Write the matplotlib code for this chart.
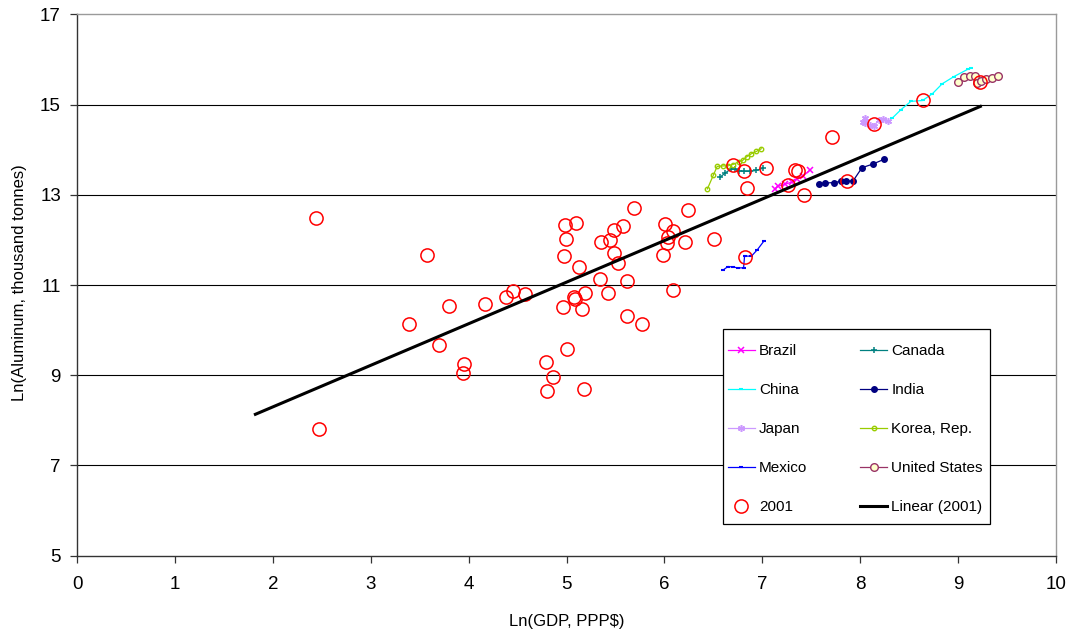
import matplotlib
matplotlib.use("Agg")
import matplotlib.pyplot as plt
from matplotlib.patches import Rectangle
import numpy as np

plt.rcParams['font.family'] = ['Liberation Sans', 'DejaVu Sans']

# --- data ---
brazil_x = [7.13, 7.16, 7.23, 7.30, 7.36, 7.42, 7.49]
brazil_y = [13.12, 13.19, 13.23, 13.28, 13.36, 13.42, 13.55]

canada_x = [6.57, 6.62, 6.68, 6.72, 6.76, 6.81, 6.88, 6.94, 7.01]
canada_y = [13.39, 13.48, 13.57, 13.58, 13.53, 13.52, 13.52, 13.54, 13.59]

china_x = [8.33, 8.42, 8.52, 8.64, 8.74, 8.84, 8.96, 9.10, 9.13]
china_y = [14.70, 14.89, 15.07, 15.09, 15.24, 15.46, 15.62, 15.78, 15.80]

india_x = [7.58, 7.64, 7.73, 7.81, 7.86, 7.93, 8.02, 8.13, 8.25]
india_y = [13.24, 13.26, 13.27, 13.30, 13.30, 13.31, 13.60, 13.68, 13.79]

japan_x = [8.03, 8.05, 8.05, 8.10, 8.14, 8.19, 8.24, 8.29]
japan_y = [14.62, 14.70, 14.58, 14.55, 14.52, 14.65, 14.67, 14.64]

korea_x = [6.44, 6.50, 6.54, 6.60, 6.65, 6.70, 6.76, 6.80, 6.84, 6.89, 6.94, 6.99]
korea_y = [13.13, 13.43, 13.63, 13.64, 13.64, 13.67, 13.73, 13.76, 13.84, 13.91, 13.96, 14.02]

mexico_x = [6.60, 6.65, 6.70, 6.75, 6.81, 6.82, 6.89, 6.95, 7.02]
mexico_y = [11.33, 11.41, 11.40, 11.38, 11.38, 11.64, 11.64, 11.78, 11.98]

us_x = [9.00, 9.06, 9.12, 9.18, 9.20, 9.24, 9.29, 9.35, 9.41]
us_y = [15.51, 15.60, 15.64, 15.64, 15.47, 15.52, 15.56, 15.58, 15.63]

y2001_x = [2.44, 2.47, 3.39, 3.57, 3.70, 3.80, 3.95, 3.94, 4.17, 4.38,
           4.45, 4.58, 4.79, 4.80, 4.86, 4.96, 4.97, 4.98, 4.99, 5.01,
           5.08, 5.09, 5.10, 5.13, 5.16, 5.18, 5.19, 5.34, 5.35, 5.42,
           5.44, 5.49, 5.49, 5.53, 5.58, 5.62, 5.62, 5.69, 5.77, 5.99,
           6.01, 6.03, 6.04, 6.09, 6.09, 6.21, 6.24, 6.51, 6.70, 6.81,
           6.84, 6.82, 7.04, 7.26, 7.34, 7.37, 7.43, 7.71, 7.87, 8.14,
           8.64, 9.23]
y2001_y = [12.48, 7.81, 10.13, 11.67, 9.68, 10.54, 9.24, 9.05, 10.57, 10.74,
           10.87, 10.80, 9.30, 8.65, 8.96, 10.52, 11.64, 12.33, 12.02, 9.58,
           10.74, 10.70, 12.37, 11.39, 10.47, 8.69, 10.82, 11.13, 11.95, 10.83,
           12.00, 12.22, 11.70, 11.48, 12.30, 11.09, 10.31, 12.70, 10.13, 11.67,
           12.36, 11.93, 12.07, 12.20, 10.90, 11.96, 12.67, 12.01, 13.67, 13.53,
           13.15, 11.62, 13.59, 13.22, 13.56, 13.53, 13.00, 14.28, 13.30, 14.56,
           15.09, 15.49]

trend_x = [1.82, 9.23]          # extent of the linear trendline
trend_slope = 0.921
trend_intercept = 6.458

x_ticks = [0, 1, 2, 3, 4, 5, 6, 7, 8, 9, 10]
y_ticks = [5, 7, 9, 11, 13, 15, 17]

# --- figure ---
fig = plt.figure(figsize=(10.71, 6.33), dpi=100)
ax = fig.add_axes([0.0722, 0.1221, 0.9135, 0.8553])

for yv in y_ticks[1:-1]:
    ax.axhline(yv, color='black', lw=0.8, zorder=0.5)

s_lw = 0.9
h_brazil, = ax.plot(brazil_x, brazil_y, color='#FF00FF', lw=s_lw, marker='x',
                    ms=4.5, mew=1.1, label='Brazil', zorder=2)
h_canada, = ax.plot(canada_x, canada_y, color='#008080', lw=s_lw, marker='+',
                    ms=5, mew=1.1, label='Canada', zorder=2)
h_china, = ax.plot(china_x, china_y, color='#00FFFF', lw=s_lw, marker='_',
                   ms=3.5, mew=1.5, label='China', zorder=2)
h_india, = ax.plot(india_x, india_y, color='#000080', lw=s_lw, marker='o',
                   ms=4, label='India', zorder=2)
h_japan, = ax.plot(japan_x, japan_y, color='#CC99FF', lw=s_lw, marker=(6, 2, 0),
                   ms=5, mew=1.1, label='Japan', zorder=2)
h_korea, = ax.plot(korea_x, korea_y, color='#99CC00', lw=s_lw, marker='o',
                   ms=3.2, mfc='none', mew=1.0, label='Korea, Rep.', zorder=2)
h_mexico, = ax.plot(mexico_x, mexico_y, color='#0000FF', lw=s_lw, marker='_',
                    ms=3.5, mew=1.5, label='Mexico', zorder=2)
h_us, = ax.plot(us_x, us_y, color='#993366', lw=s_lw, marker='o', ms=5.5,
                mfc='#FFFFCC', mec='#993366', mew=1.0, label='United States', zorder=2)

h_2001, = ax.plot(y2001_x, y2001_y, ls='none', marker='o', ms=9.5, mfc='none',
                  mec='#FF0000', mew=1.1, label='2001', zorder=3)

tx = np.array(trend_x)
h_lin, = ax.plot(tx, trend_intercept + trend_slope * tx, color='black', lw=2.2,
                 label='Linear (2001)', zorder=4)

ax.set_xlim(0, 10)
ax.set_ylim(5, 17)
ax.set_xticks(x_ticks)
ax.set_yticks(y_ticks)
ax.tick_params(axis='both', direction='out', length=4.8, width=0.9,
               labelsize=13.5, color='#333333')
ax.tick_params(axis='x', pad=9.5)
ax.tick_params(axis='y', pad=7)

for side in ['left', 'bottom']:
    ax.spines[side].set_color('#333333')
    ax.spines[side].set_linewidth(1.0)
for side in ['top', 'right']:
    ax.spines[side].set_color('#9a9a9a')
    ax.spines[side].set_linewidth(1.0)

ax.set_xlabel('Ln(GDP, PPP$)', fontsize=12)
ax.set_ylabel('Ln(Aluminum, thousand tonnes)', fontsize=12)
ax.xaxis.set_label_coords(0.5, -0.107)
ax.yaxis.set_label_coords(-0.051, 0.505)

# legend frame (white box with black edge)
frame = Rectangle((0.660, 0.0585), 0.2729, 0.3602, transform=ax.transAxes,
                  facecolor='white', edgecolor='black', lw=0.9, zorder=9)
ax.add_patch(frame)

handles = [h_brazil, h_china, h_japan, h_mexico, h_2001,
           h_canada, h_india, h_korea, h_us, h_lin]
leg = ax.legend(handles=handles, ncol=2, loc='upper left',
                bbox_to_anchor=(0.6651, 0.3903), fontsize=11,
                frameon=False, labelspacing=1.635, handlelength=1.76,
                handletextpad=0.28, columnspacing=3.45, borderpad=0,
                borderaxespad=0)
leg.set_zorder(10)

fig.savefig('out.png', dpi=100)
